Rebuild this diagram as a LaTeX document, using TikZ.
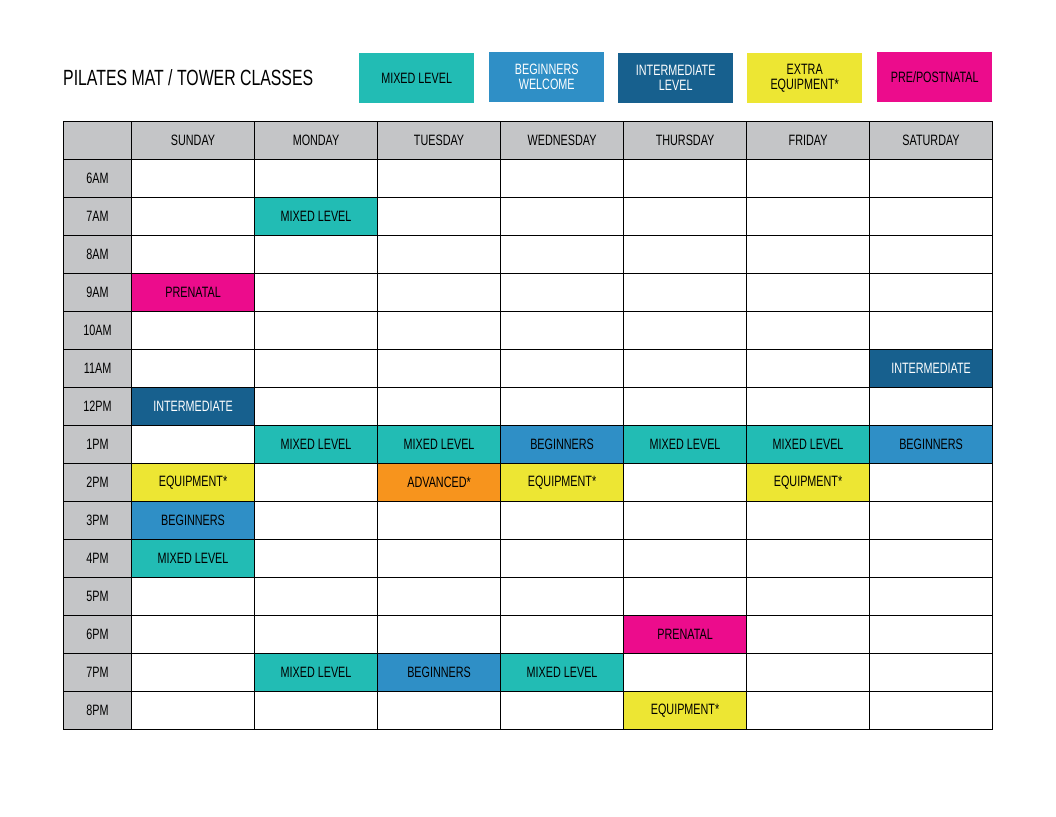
\documentclass[tikz,border=0pt]{standalone}
\usepackage{fontspec}
\setmainfont[FakeStretch=0.72]{Liberation Sans}
\definecolor{teal}{HTML}{22BCB4}
\definecolor{blu}{HTML}{2F8FC6}
\definecolor{dblu}{HTML}{17608E}
\definecolor{yel}{HTML}{EDE633}
\definecolor{mag}{HTML}{EC0C8C}
\definecolor{org}{HTML}{F7941D}
\definecolor{hgray}{HTML}{C4C5C7}
\tikzset{
 cellbox/.style={draw=black,line width=1.1pt,minimum width=123pt,minimum height=38pt,inner sep=0pt,font=\fontsize{15}{15}\selectfont,anchor=north west},
 legbox/.style={minimum width=115pt,minimum height=50pt,inner sep=0pt,align=center,font=\fontsize{15}{15}\selectfont,anchor=north west}
}
\begin{document}
\begin{tikzpicture}[x=1pt,y=-1pt]
\useasboundingbox (0,0) rectangle (1056,816);
\node[anchor=west,font=\fontsize{22}{22}\selectfont,inner sep=0pt] (title) at (63,78) {PILATES MAT / TOWER CLASSES};
\node[legbox,fill=teal] (l1) at (359,53) {MIXED LEVEL};
\node[legbox,fill=blu,text=white] (l2) at (489,52) {BEGINNERS\\WELCOME};
\node[legbox,fill=dblu,text=white] (l3) at (618,53) {INTERMEDIATE\\LEVEL};
\node[legbox,fill=yel] (l4) at (747,53) {EXTRA\\EQUIPMENT*};
\node[legbox,fill=mag] (l5) at (877,52) {PRE/POSTNATAL};
% header
\node[cellbox,fill=hgray,minimum width=68pt] (h0) at (63,121) {};
\foreach \d [count=\i from 0] in {SUNDAY,MONDAY,TUESDAY,WEDNESDAY,THURSDAY,FRIDAY,SATURDAY}
  \node[cellbox,fill=hgray] (h\i) at (131+123*\i,121) {\d};
\foreach \t [count=\r from 0] in {6AM,7AM,8AM,9AM,10AM,11AM,12PM,1PM,2PM,3PM,4PM,5PM,6PM,7PM,8PM}{
  \node[cellbox,fill=hgray,minimum width=68pt] (t\r) at (63,159+38*\r) {\t};
  \foreach \i in {0,...,6}
    \node[cellbox,fill=white] (c\r-\i) at (131+123*\i,159+38*\r) {};
}
\newcommand\cls[4]{\node[cellbox,fill=#3,text=#4] (k#1-#2) at (131+123*#2,159+38*#1) {\csname clstext\endcsname};}
\foreach \r/\i/\c/\tc/\txt in {
 1/1/teal/black/MIXED LEVEL,
 3/0/mag/black/PRENATAL,
 5/6/dblu/white/INTERMEDIATE,
 6/0/dblu/white/INTERMEDIATE,
 7/1/teal/black/MIXED LEVEL,7/2/teal/black/MIXED LEVEL,7/3/blu/black/BEGINNERS,7/4/teal/black/MIXED LEVEL,7/5/teal/black/MIXED LEVEL,7/6/blu/black/BEGINNERS,
 8/0/yel/black/EQUIPMENT*,8/2/org/black/ADVANCED*,8/3/yel/black/EQUIPMENT*,8/5/yel/black/EQUIPMENT*,
 9/0/blu/black/BEGINNERS,
 10/0/teal/black/MIXED LEVEL,
 12/4/mag/black/PRENATAL,
 13/1/teal/black/MIXED LEVEL,13/2/blu/black/BEGINNERS,13/3/teal/black/MIXED LEVEL,
 14/4/yel/black/EQUIPMENT*}
  \node[cellbox,fill=\c,text=\tc] (k\r-\i) at (131+123*\i,159+38*\r) {\txt};
\end{tikzpicture}
\end{document}
